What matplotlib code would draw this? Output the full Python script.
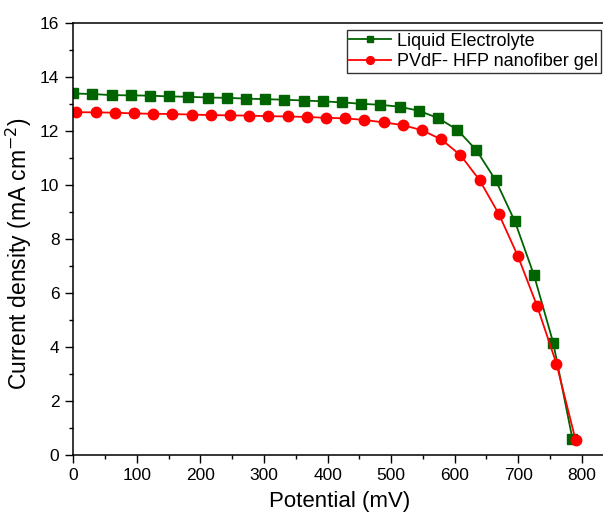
import numpy as np
import matplotlib
matplotlib.use("Agg")
import matplotlib.pyplot as plt
from matplotlib.ticker import MultipleLocator

plt.rcParams['font.family'] = ['Liberation Sans', 'DejaVu Sans']

# J-V data (potential in mV, current density in mA cm^-2)
step = 30.2
liquid_v = [i * step for i in range(27)]
liquid_j = [13.38, 13.36, 13.32, 13.31, 13.30, 13.27, 13.26, 13.23, 13.22,
            13.19, 13.17, 13.15, 13.12, 13.09, 13.05, 13.00, 12.96, 12.89,
            12.74, 12.47, 12.04, 11.28, 10.17, 8.65, 6.65, 4.15, 0.60]

gel_v = [5 + i * step for i in range(27)]
gel_j = [12.69, 12.68, 12.67, 12.64, 12.63, 12.62, 12.60, 12.58, 12.57,
         12.56, 12.54, 12.53, 12.51, 12.48, 12.46, 12.40, 12.31, 12.21,
         12.02, 11.68, 11.10, 10.17, 8.92, 7.35, 5.50, 3.38, 0.55]

W, H = 603, 522
fig = plt.figure(figsize=(W / 100, H / 100), dpi=100)
ax = fig.add_axes([73.3 / W, (H - 455) / H, (606 - 73.3) / W, (455 - 22.7) / H])

ax.plot(liquid_v, liquid_j, color='#006400', marker='s', markersize=6.5,
        linewidth=1.3, label='Liquid Electrolyte')
ax.plot(gel_v, gel_j, color='#ff0000', marker='o', markersize=7.5,
        linewidth=1.3, label='PVdF- HFP nanofiber gel')

ax.set_xlim(0, 838)
ax.set_ylim(0, 16)
ax.xaxis.set_major_locator(MultipleLocator(100))
ax.xaxis.set_minor_locator(MultipleLocator(50))
ax.yaxis.set_major_locator(MultipleLocator(2))
ax.yaxis.set_minor_locator(MultipleLocator(1))
ax.tick_params(which='major', direction='out', length=6, width=1,
               labelsize=12.5, pad=3)
ax.tick_params(axis='y', which='major', pad=4)
ax.tick_params(which='minor', direction='out', length=3, width=1)
ax.spines['right'].set_visible(False)
for s in ['left', 'bottom', 'top']:
    ax.spines[s].set_linewidth(1.1)

ax.set_xlabel('Potential (mV)', fontsize=16, labelpad=6)
ax.set_ylabel('Current density (mA cm$^{-2}$)', fontsize=16.5)
ax.yaxis.set_label_coords(-0.074, 0.466)

leg = ax.legend(loc='upper left', bbox_to_anchor=(0.513, 0.983), fontsize=13,
                frameon=True, fancybox=False, edgecolor='black',
                handlelength=2.3, borderpad=0.15, labelspacing=0.2,
                handletextpad=0.35, borderaxespad=0, markerscale=0.75)
leg.get_frame().set_linewidth(1.0)

fig.savefig('out.png', dpi=100)
